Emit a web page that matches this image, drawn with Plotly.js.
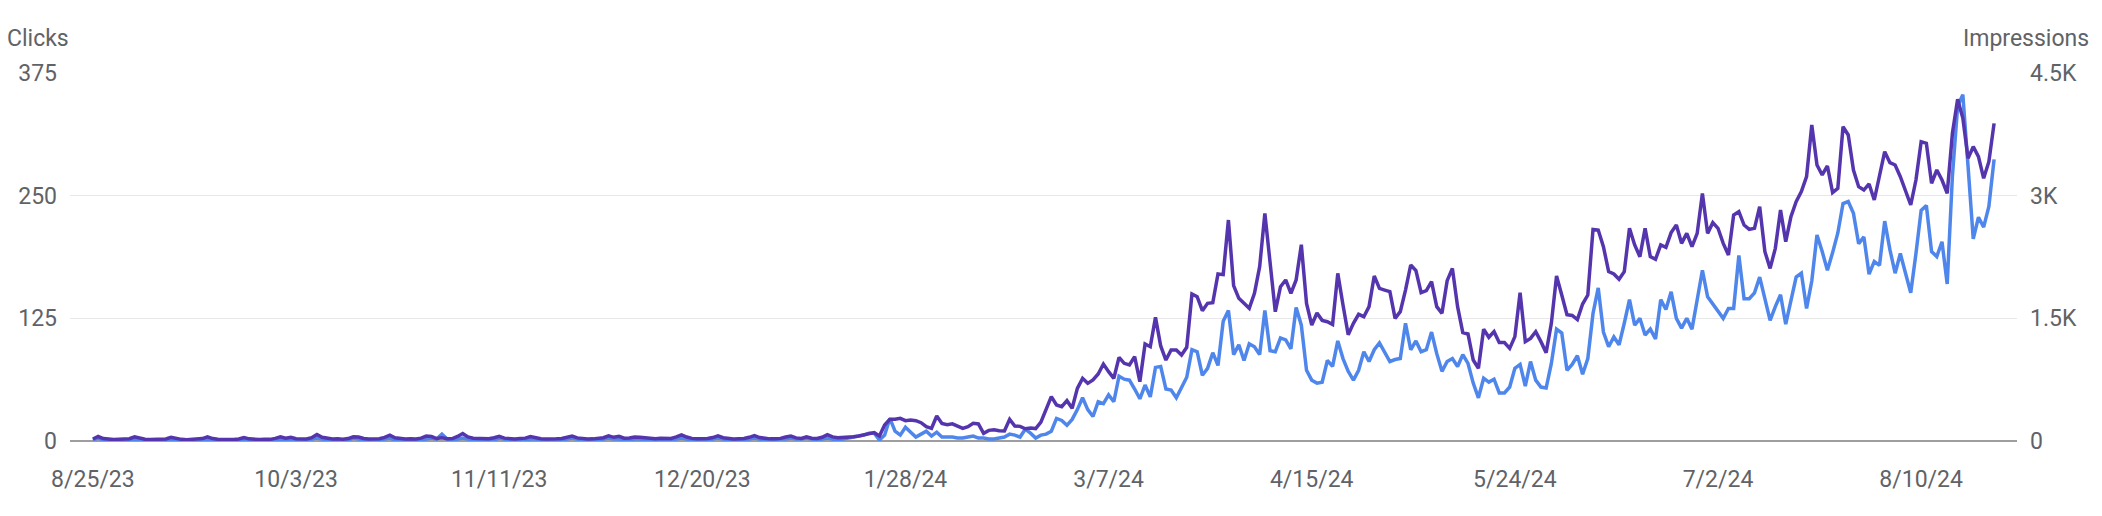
<!DOCTYPE html>
<html>
<head>
<meta charset="utf-8">
<script src="https://cdn.plot.ly/plotly-3.0.1.min.js"></script>
<style>
  html, body { margin: 0; padding: 0; background: #ffffff; }
  #chart { width: 2102px; height: 516px; }
</style>
</head>
<body>
<div id="chart"></div>
<script>
// ---- Data (daily, starting 8/25/23) ----
const startDate = '2023-08-25';

const clicks = [
  1,3,1,0,1,0,1, 1,2,1,0,1,0,0, 1,2,1,1,0,0,1, 1,2,1,0,0,1,0, 1,2,1,0,0,1,0,
  1,2,1,2,1,0,1, 2,3,2,1,0,1,1, 1,3,2,1,0,1,1, 2,3,1,1,0,1,1, 1,2,3,2,7,2,1,
  2,3,2,1,1,1,0, 1,3,2,1,1,0,1, 2,2,1,1,0,1,1, 2,3,2,1,0,1,1, 2,3,2,2,1,1,2,
  2,1,1,1,2,1,1, 2,3,2,1,1,1,1, 2,3,2,1,1,1,1, 2,3,2,1,1,1,2, 2,3,2,2,3,2,1,
  2,3,2,0,2,
  3,4,5,6,8,8,1,6,23,10, 6,14,9,4,7,10,5,9,4,4, 4,3,3,4,5,3,3,2,2,3, 4,7,6,4,12,8,3,
  6,7,10,23,21,16,22,32,44,32,25,40,38,47,40,66,63,62,53,43,57,45,75,76,53,52,44,55,65,93,91,67,74,90,77,122,133,88,98,
  82,99,96,88,133,92,91,105,103,94,136,118,
  72,62,59,60,82,76,102,84,71,62,72,91,81,93,100,91,81,83,84,120,93,102,91,93,111,89,71,81,84,76,88,79,59,44,64,60,63,49,49,55,74,78,56,81,62,55,54,79,
  114,110,72,78,87,68,84,130,156,111,96,106,98,120,144,118,125,108,114,104,144,134,152,125,115,125,114,144,174,147,140,132,125,135,135,189,145,145,151,167,144,123,137,149,119,143,167,171,135,163,210,193,174,192,212,
  242,244,232,201,208,170,183,179,224,195,171,191,171,151,191,235,240,193,188,203,160,270,341,353,280,206,228,218,239,287
];

const impressions = [
  25,55,30,20,18,22,20, 28,50,32,22,18,20,17, 25,45,28,20,16,18,22, 30,52,30,22,18,20,19, 24,42,26,20,18,22,20,
  32,50,35,45,28,22,25, 40,80,45,30,24,26,22, 30,52,48,30,25,22,28, 45,72,40,30,25,28,24, 35,60,55,30,40,28,30,
  55,92,50,35,30,32,28, 40,58,35,28,25,30,35, 55,40,28,25,22,26,30, 45,60,38,28,24,26,30, 40,62,45,58,35,38,50,
  45,40,32,28,35,30,32, 50,75,48,32,28,26,30, 42,62,40,30,25,28,30, 45,65,42,30,26,28,32, 48,60,38,32,50,34,30,
  45,78,50,40,42,
  45,53,61,73,94,102,61,196,265,265,277,249,257,249,224,175,155,306,215,200,210,183,155,175,216,208,94,130,138,126,122,265,183,179,150,160,152,
  230,400,542,440,420,493,400,644,766,705,746,819,941,848,766,1023,950,929,1031,725,1186,1153,1512,1162,990,1113,1113,1052,1146,1797,1765,1594,1684,1691,2042,2034,2702,1900,1745,
  1683,1622,1806,2132,2784,2213,1581,1887,1969,1806,
  1969,2400,1683,1418,1565,1475,1459,1425,2050,1663,
  1300,1439,1549,1520,1643,2018,1867,1846,1826,1500,
  1582,1846,2152,2083,1814,1838,1948,1643,1561,1961,
  2111,1643,1325,1308,990,889,1366,1268,1337,1203,
  1203,1133,1276,1814,1215,1255,1337,1215,1080,1439,
  2018,1785,1545,1535,1485,1675,1785,2588,2580,2376,
  2071,2042,1977,2071,2601,2397,2254,2601,2254,2222,
  2397,2368,2548,2641,2417,2539,2376,2539,3028,2539,
  2670,2601,2417,2274,2763,2804,2641,2588,2601,2865,
  2315,2111,2356,2825,2437,2743,2927,3049,3232,3864,
  3375,3253,3363,3037,3090,3843,3742,3314,3110,3069,
  3143,2947,3232,3538,3403,3375,3232,3069,2886,3191,
  3660,3640,3151,3314,3191,3029,3763,4180,3950,3456,
  3599,3477,3212,3416,3884
];

const xTickDates  = ['2023-08-25','2023-10-03','2023-11-11','2023-12-20','2024-01-28','2024-03-07','2024-04-15','2024-05-24','2024-07-02','2024-08-10'];
const xTickLabels = ['8/25/23','10/3/23','11/11/23','12/20/23','1/28/24','3/7/24','4/15/24','5/24/24','7/2/24','8/10/24'];
const clickTicks = [0, 125, 250, 375];
const clickTickLabels = ['0', '125', '250', '375'];
const imprTicks = [0, 1500, 3000, 4500];
const imprTickLabels = ['0', '1.5K', '3K', '4.5K'];

// ---- Dates for each daily value ----
const s = startDate.split('-').map(Number);
const dates = clicks.map((_, i) => new Date(Date.UTC(s[0], s[1] - 1, s[2] + i)).toISOString().slice(0, 10));

const textColor = '#5f6368';
const font = { family: 'Roboto, "Noto Sans", sans-serif', size: 23, color: textColor };

const traces = [
  {
    name: 'Impressions', x: dates, y: impressions, yaxis: 'y2', type: 'scatter', mode: 'lines',
    line: { color: '#5535ad', width: 3.5, shape: 'linear' }, hoverinfo: 'skip'
  },
  {
    name: 'Clicks', x: dates, y: clicks, yaxis: 'y', type: 'scatter', mode: 'lines',
    line: { color: '#4f86ec', width: 3.5, shape: 'linear' }, hoverinfo: 'skip'
  }
];

const layout = {
  width: 2102, height: 516,
  margin: { l: 70, r: 85, t: 73, b: 75, pad: 0 },
  paper_bgcolor: '#ffffff', plot_bgcolor: '#ffffff',
  font: font,
  showlegend: false,
  xaxis: {
    type: 'date',
    range: ['2023-08-20 14:24', '2024-08-28 09:36'],
    tickmode: 'array', tickvals: xTickDates, ticktext: xTickLabels,
    showgrid: false, zeroline: false, showline: false, ticks: '',
    ticklabelstandoff: 22,
    tickfont: font, fixedrange: true
  },
  yaxis: {
    range: [0, 375],
    tickmode: 'array', tickvals: clickTicks, ticktext: clickTickLabels,
    showgrid: true, gridcolor: '#e8e8e8', gridwidth: 1.5,
    zeroline: true, zerolinecolor: '#9e9e9e', zerolinewidth: 1.5,
    showline: false, ticks: '', ticklabelstandoff: 12,
    tickfont: font, fixedrange: true
  },
  yaxis2: {
    range: [0, 4500], overlaying: 'y', side: 'right',
    tickmode: 'array', tickvals: imprTicks, ticktext: imprTickLabels,
    showgrid: false, zeroline: false, showline: false, ticks: '', ticklabelstandoff: 12,
    tickfont: font, fixedrange: true
  },
  annotations: [
    { text: 'Clicks', xref: 'paper', yref: 'paper', x: -0.0334, y: 1.095, xanchor: 'left', yanchor: 'middle', showarrow: false, font: font },
    { text: 'Impressions', xref: 'paper', yref: 'paper', x: 1.038, y: 1.095, xanchor: 'right', yanchor: 'middle', showarrow: false, font: font }
  ]
};

Plotly.newPlot('chart', traces, layout, { staticPlot: true, displayModeBar: false });
</script>
</body>
</html>
